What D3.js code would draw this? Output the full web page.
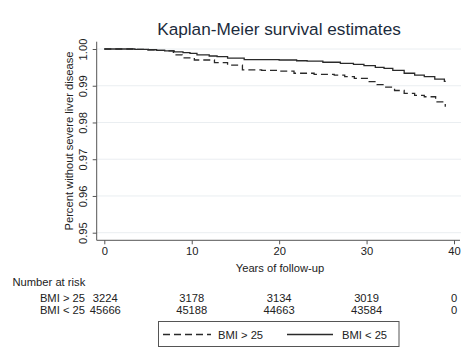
<!DOCTYPE html>
<html><head><meta charset="utf-8">
<script src="https://cdn.jsdelivr.net/npm/d3@7"></script>
<style>body{margin:0;background:#fff}svg{display:block}text{font-family:"Liberation Sans",Arial,sans-serif}</style>
</head><body>
<script>
const timesLow = [0,3.5,5,6,6.9,8,9,9.8,10.6,12,12.9,14.1,16,18,20,22,23.2,25,27,28.5,29.7,31,32,33,34.3,35.5,36.6,37.8,38.9,39];
const survLow  = [1,0.9999,0.9998,0.9996,0.9995,0.9992,0.999,0.9988,0.9984,0.9981,0.9979,0.9975,0.9971,0.9971,0.997,0.9968,0.9967,0.9964,0.9961,0.9958,0.9955,0.995,0.9947,0.9942,0.9934,0.9929,0.9925,0.9918,0.9912,0.9911];
const timesHigh = [0,3.5,5,6,6.9,7.9,8.9,10.3,12.6,14.1,15.8,18,20,21.7,24,26.3,27.5,28.6,30.3,31.2,32,33.2,34.3,35.5,36.6,37.9,38.9,39];
const survHigh  = [1,0.9999,0.9998,0.9996,0.9995,0.9984,0.9976,0.997,0.9963,0.9956,0.9943,0.9942,0.994,0.9934,0.9931,0.9929,0.9925,0.992,0.9911,0.9903,0.9896,0.9887,0.9879,0.9874,0.987,0.9856,0.9852,0.9843];
const xTicks = [0,10,20,30,40];
const yTicks = [0.95,0.96,0.97,0.98,0.99,1.00];
const riskHigh = [3224,3178,3134,3019,0];
const riskLow = [45666,45188,44663,43584,0];
const groupLabels = ["BMI > 25","BMI < 25"];

const W=468,H=358;
const svg=d3.select("body").append("svg").attr("width",W).attr("height",H);
const x=d3.scaleLinear().domain([0,40]).range([104.3,454]);
const y=d3.scaleLinear().domain([0.95,1.0]).range([232.7,49]);
const pLeft=96.7,pRight=460,pTop=41.7,pBottom=240.3;
const ink="#222";
const fs=11.2;

// gridlines
svg.append("g").selectAll("line").data(yTicks).join("line")
  .attr("x1",pLeft).attr("x2",pRight+1).attr("y1",d=>y(d)).attr("y2",d=>y(d))
  .attr("stroke","#eaeef1").attr("stroke-width",1);

// axes
const yAxis=svg.append("g").attr("transform",`translate(${pLeft},0)`)
  .call(d3.axisLeft(y).tickValues(yTicks).tickSize(4).tickFormat(d3.format(".2f")));
yAxis.select(".domain").remove();
yAxis.selectAll(".tick line").attr("stroke","#555");
yAxis.selectAll(".tick text").attr("x",null).attr("dy",null)
  .attr("transform","translate(-10,0) rotate(-90)").attr("text-anchor","middle")
  .attr("font-size",fs).attr("fill",ink).attr("font-family","Liberation Sans, Arial, sans-serif");
svg.append("line").attr("x1",pLeft).attr("x2",pLeft).attr("y1",pTop).attr("y2",pBottom).attr("stroke","#555");

const xAxis=svg.append("g").attr("transform",`translate(0,${pBottom})`)
  .call(d3.axisBottom(x).tickValues(xTicks).tickSize(4).tickPadding(3).tickFormat(d3.format("d")));
xAxis.select(".domain").remove();
xAxis.selectAll(".tick line").attr("stroke","#555");
xAxis.selectAll(".tick text").attr("font-size",fs).attr("fill",ink).attr("font-family","Liberation Sans, Arial, sans-serif");
svg.append("line").attr("x1",pLeft).attr("x2",pRight).attr("y1",pBottom).attr("y2",pBottom).attr("stroke","#555");

// curves
const line=d3.line().x(d=>x(d[0])).y(d=>y(d[1])).curve(d3.curveStepAfter);
svg.append("path").datum(timesLow.map((t,i)=>[t,survLow[i]]))
  .attr("d",line).attr("fill","none").attr("stroke","#2a2a2a").attr("stroke-width",1.3);
svg.append("path").datum(timesHigh.map((t,i)=>[t,survHigh[i]]))
  .attr("d",line).attr("fill","none").attr("stroke","#2a2a2a").attr("stroke-width",1.3).attr("stroke-dasharray","7,4");

// title & labels
svg.append("text").attr("x",279).attr("y",34.5).attr("text-anchor","middle")
  .attr("font-size",17.2).attr("fill","#1c2b3c").text("Kaplan-Meier survival estimates");
svg.append("text").attr("transform","translate(72.5,141) rotate(-90)").attr("text-anchor","middle")
  .attr("font-size",fs).attr("fill",ink).text("Percent without severe liver disease");
svg.append("text").attr("x",280).attr("y",271.5).attr("text-anchor","middle")
  .attr("font-size",fs).attr("fill",ink).text("Years of follow-up");

// risk table
svg.append("text").attr("x",12.5).attr("y",286).attr("font-size",fs).attr("fill",ink).text("Number at risk");
[riskHigh,riskLow].forEach((row,r)=>{
  const yy=301.5+r*12.5;
  svg.append("text").attr("x",85).attr("y",yy).attr("text-anchor","end")
    .attr("font-size",fs).attr("fill",ink).text(groupLabels[r]);
  svg.append("g").selectAll("text").data(row).join("text")
    .attr("x",(d,i)=>x(xTicks[i])+ (i===0?1:0)).attr("y",yy).attr("text-anchor","middle")
    .attr("font-size",fs).attr("fill",ink).text(d=>d);
});

// legend
const lg=svg.append("g");
lg.append("rect").attr("x",158.5).attr("y",321.5).attr("width",240.5).attr("height",25)
  .attr("fill","#fff").attr("stroke","#555").attr("stroke-width",1);
lg.append("line").attr("x1",163).attr("x2",211).attr("y1",334.5).attr("y2",334.5)
  .attr("stroke","#2a2a2a").attr("stroke-width",1.3).attr("stroke-dasharray","7,4");
lg.append("text").attr("x",218).attr("y",338.5).attr("font-size",fs).attr("fill",ink).text(groupLabels[0]);
lg.append("line").attr("x1",287).attr("x2",333).attr("y1",334.5).attr("y2",334.5)
  .attr("stroke","#2a2a2a").attr("stroke-width",1.3);
lg.append("text").attr("x",342).attr("y",338.5).attr("font-size",fs).attr("fill",ink).text(groupLabels[1]);
</script>
</body></html>
